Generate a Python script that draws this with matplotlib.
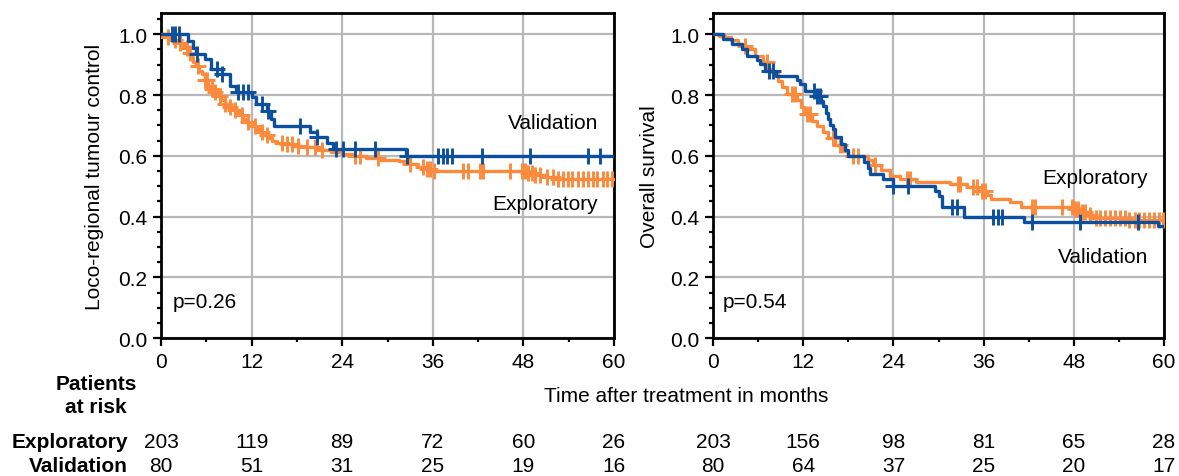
import numpy as np
import matplotlib
matplotlib.use("Agg")
import matplotlib.pyplot as plt
from matplotlib.transforms import blended_transform_factory
from matplotlib.ticker import MultipleLocator

plt.rcParams['font.family'] = ['Liberation Sans', 'DejaVu Sans']

# ---------------- data ----------------
# Left panel: loco-regional tumour control
lrc_val_t = [0, 3.6, 4.3, 4.6, 5.8, 6.6, 8.1, 9.1, 9.9, 12.0, 12.6, 14.0, 14.6, 15.0, 19.7, 20.6, 22.0, 22.8, 32.4]
lrc_val_s = [1.0, 0.977, 0.955, 0.934, 0.918, 0.885, 0.869, 0.829, 0.809, 0.793, 0.770, 0.747, 0.721, 0.698, 0.68, 0.661, 0.641, 0.622, 0.60]
lrc_val_cens = [1.5, 1.9, 2.4, 4.8, 7.4, 8.1, 10.2, 10.9, 11.5, 13.4, 14.2, 18.4, 20.7, 23.2, 24.1, 25.7, 28.3,
                32.6, 36.7, 37.3, 37.9, 38.5, 42.5, 48.9, 56.6, 58.1]

lrc_exp_t = [0, 0.5, 1.0, 1.5, 2.0, 2.5, 2.9, 3.3, 3.6, 3.9, 4.2, 4.6, 5.0, 5.4, 5.8, 6.2, 6.6, 7.0, 7.4, 7.9,
             8.5, 9.0, 9.5, 9.9, 10.4, 10.9, 11.4, 12.0, 12.6, 13.1, 13.5, 14.1, 14.7, 15.4, 16.2, 17.5, 19.0,
             20.6, 21.3, 22.5, 24.0, 25.5, 27.2, 29.0, 31.5, 33.0, 34.0, 34.8, 35.8, 48.5, 49.5, 51.0, 52.3]
lrc_exp_s = [1.0, 0.99, 0.985, 0.98, 0.975, 0.97, 0.965, 0.955, 0.94, 0.925, 0.91, 0.895, 0.88, 0.868, 0.85,
             0.83, 0.82, 0.81, 0.797, 0.785, 0.772, 0.76, 0.75, 0.743, 0.733, 0.722, 0.71, 0.697, 0.688, 0.678,
             0.670, 0.66, 0.65, 0.643, 0.638, 0.634, 0.63, 0.626, 0.62, 0.614, 0.607, 0.600, 0.592, 0.587, 0.582,
             0.572, 0.565, 0.557, 0.550, 0.543, 0.537, 0.531, 0.524]
lrc_exp_cens = [0.9, 1.9, 2.5, 3.4, 3.8, 4.9, 5.8, 6.1, 6.8, 7.2, 7.8, 8.5, 9.1, 9.8, 10.7, 11.5, 12.5, 13.4,
                14.0, 16.0, 16.7, 17.4, 18.1, 19.3, 20.4, 21.3, 25.7, 26.4, 28.8, 33.0, 34.7, 35.2, 35.6, 36.1,
                40.0, 40.7, 42.3, 42.7, 46.2, 47.8, 48.2, 48.6, 49.1, 49.5, 50.2, 51.1, 51.9, 52.6, 53.2, 53.9,
                54.5, 55.2, 55.9, 56.5, 57.2, 57.8, 58.5, 59.1, 59.8]

# Right panel: overall survival
os_val_t = [0, 1.3, 2.5, 3.8, 4.5, 5.8, 6.2, 6.9, 8.4, 11.2, 11.6, 12.2, 13.8, 14.4, 14.6, 15.0, 15.3, 15.6,
            15.9, 16.2, 17.0, 17.6, 17.9, 20.1, 20.6, 20.9, 22.6, 23.9, 29.6, 30.0, 30.5, 33.4, 41.4, 59.2]
os_val_s = [1.0, 0.984, 0.967, 0.950, 0.928, 0.915, 0.901, 0.878, 0.862, 0.849, 0.836, 0.813, 0.796, 0.78,
            0.763, 0.742, 0.721, 0.700, 0.688, 0.661, 0.638, 0.62, 0.599, 0.579, 0.560, 0.540, 0.523, 0.500,
            0.484, 0.468, 0.431, 0.398, 0.382, 0.37]
os_val_cens = [7.4, 8.0, 13.4, 13.8, 14.2, 23.9, 25.9, 31.8, 32.5, 37.2, 37.9, 38.5, 42.4, 48.8, 56.5]

os_exp_t = [0, 0.8, 1.6, 2.4, 3.3, 4.0, 4.7, 5.6, 6.7, 7.3, 7.7, 8.6, 9.2, 9.8, 11.2, 11.7, 12.1, 13.2, 13.8,
            14.6, 15.3, 16.2, 17.2, 18.0, 20.6, 21.3, 22.4, 23.6, 24.9, 27.0, 31.5, 33.8, 35.3, 36.4, 37.0,
            39.5, 41.0, 47.9, 49.1, 49.8, 50.3, 55.0]
os_exp_s = [1.0, 0.995, 0.99, 0.98, 0.967, 0.96, 0.951, 0.928, 0.908, 0.885, 0.875, 0.846, 0.825, 0.805,
            0.785, 0.76, 0.737, 0.715, 0.698, 0.680, 0.658, 0.635, 0.615, 0.600, 0.585, 0.57, 0.552, 0.535,
            0.524, 0.514, 0.507, 0.497, 0.485, 0.47, 0.458, 0.448, 0.432, 0.425, 0.415, 0.405, 0.395, 0.39]
os_exp_cens = [4.3, 7.2, 10.5, 10.9, 12.5, 12.9, 16.0, 16.9, 18.6, 19.3, 21.5, 25.8, 26.2, 32.6, 32.9, 34.6,
               35.1, 35.8, 36.2, 42.4, 42.8, 46.4, 47.8, 48.2, 48.6, 49.1, 49.5, 50.2, 50.9, 51.5, 52.2, 52.8,
               53.5, 54.1, 54.8, 55.4, 56.1, 56.7, 57.4, 58.0, 58.7, 59.3, 59.9]

risk_times = [0, 12, 24, 36, 48, 60]
lrc_risk_exp = [203, 119, 89, 72, 60, 26]
lrc_risk_val = [80, 51, 31, 25, 19, 16]
os_risk_exp = [203, 156, 98, 81, 65, 28]
os_risk_val = [80, 64, 37, 25, 20, 17]

# ---------------- style ----------------
BLUE = "#0c4f9e"
ORANGE = "#fc8a3c"
W, H = 1179, 477

fig = plt.figure(figsize=(W / 100, H / 100), dpi=100)
ax1 = fig.add_axes([161 / W, 1 - 339.3 / H, 453 / W, 325.3 / H])
ax2 = fig.add_axes([713 / W, 1 - 339.3 / H, 451 / W, 325.3 / H])


def step_value(t_arr, s_arr, x):
    idx = np.searchsorted(np.asarray(t_arr), x, side='right') - 1
    return np.asarray(s_arr)[idx]


def draw_km(ax, t, s, cens, color):
    tt = list(t) + [60]
    ss = list(s) + [s[-1]]
    ax.step(tt, ss, where='post', color=color, lw=2.4, zorder=3, solid_capstyle='butt')
    cy = [step_value(t, s, c) for c in cens]
    ax.plot(cens, cy, ls='none', marker='+', ms=11, mew=2.1, color=color, zorder=3)


draw_km(ax1, lrc_exp_t, lrc_exp_s, lrc_exp_cens, ORANGE)
draw_km(ax1, lrc_val_t, lrc_val_s, lrc_val_cens, BLUE)
draw_km(ax2, os_exp_t, os_exp_s, os_exp_cens, ORANGE)
draw_km(ax2, os_val_t, os_val_s, os_val_cens, BLUE)

FS = 15
for ax in (ax1, ax2):
    ax.set_xlim(0, 60)
    ax.set_ylim(0, 1.07)
    ax.xaxis.set_major_locator(MultipleLocator(12))
    ax.xaxis.set_minor_locator(MultipleLocator(6))
    ax.yaxis.set_minor_locator(MultipleLocator(0.05))
    ax.set_yticks([0, 0.2, 0.4, 0.6, 0.8, 1.0])
    ax.set_yticklabels(["0.0", "0.2", "0.4", "0.6", "0.8", "1.0"])
    ax.grid(True, which='major', color='#b8b8b8', lw=1.6, zorder=0)
    ax.set_axisbelow(True)
    for sp in ax.spines.values():
        sp.set_linewidth(2.0)
        sp.set_color('black')
    ax.tick_params(which='major', direction='out', length=6, width=1.6, labelsize=FS, pad=4)
    ax.tick_params(which='minor', direction='out', length=3.2, width=1.6)
    ax.tick_params(axis='x', which='major', pad=4)

ax1.set_ylabel("Loco-regional tumour control", fontsize=FS)
ax1.yaxis.set_label_coords(-0.126, 0.5)
ax2.set_ylabel("Overall survival", fontsize=FS)
ax2.yaxis.set_label_coords(-0.12, 0.5)

ax1.text(51.9, 0.71, "Validation", fontsize=FS, ha='center', va='center')
ax1.text(50.9, 0.445, "Exploratory", fontsize=FS, ha='center', va='center')
ax1.text(1.5, 0.12, "p=0.26", fontsize=FS, ha='left', va='center')
ax2.text(50.8, 0.53, "Exploratory", fontsize=FS, ha='center', va='center')
ax2.text(51.9, 0.27, "Validation", fontsize=FS, ha='center', va='center')
ax2.text(1.3, 0.12, "p=0.54", fontsize=FS, ha='left', va='center')

fig.text(686 / W, 1 - 396 / H, "Time after treatment in months", fontsize=FS, ha='center', va='center')
fig.text(96 / W, 1 - 396 / H, "Patients\nat risk", fontsize=FS, fontweight='bold',
         ha='center', va='center', multialignment='center', linespacing=1.3)
fig.text(128 / W, 1 - 442 / H, "Exploratory", fontsize=FS, fontweight='bold', ha='right', va='center')
fig.text(128 / W, 1 - 467 / H, "Validation", fontsize=FS, fontweight='bold', ha='right', va='center')

for ax, rexp, rval in ((ax1, lrc_risk_exp, lrc_risk_val), (ax2, os_risk_exp, os_risk_val)):
    tr = blended_transform_factory(ax.transData, fig.transFigure)
    for t, e, v in zip(risk_times, rexp, rval):
        ax.text(t, 1 - 442 / H, str(e), transform=tr, fontsize=FS, ha='center', va='center', clip_on=False)
        ax.text(t, 1 - 467 / H, str(v), transform=tr, fontsize=FS, ha='center', va='center', clip_on=False)

fig.savefig("out.png", dpi=100)
